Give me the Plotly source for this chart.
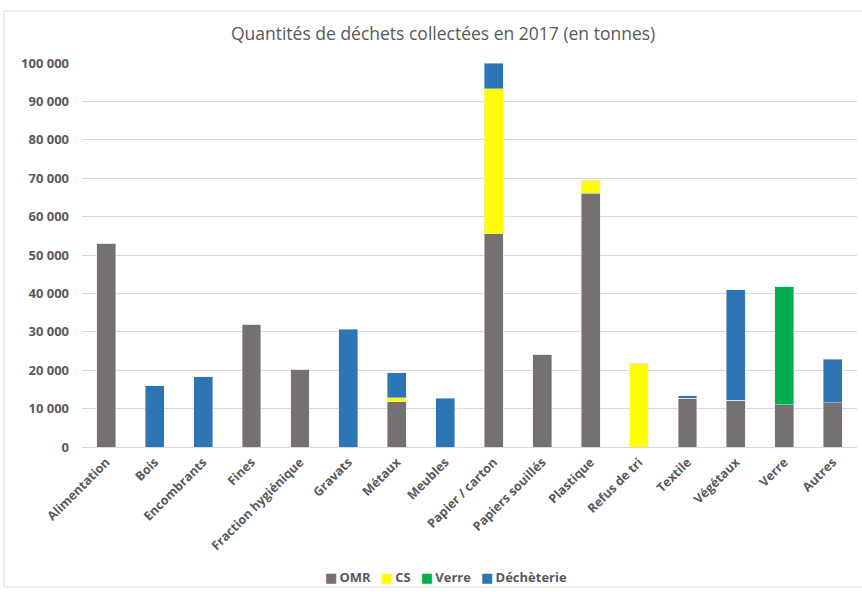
import plotly.graph_objects as go

categories = [
    "Alimentation", "Bois", "Encombrants", "Fines", "Fraction hygiénique",
    "Gravats", "Métaux", "Meubles", "Papier / carton", "Papiers souillés",
    "Plastique", "Refus de tri", "Textile", "Végétaux", "Verre", "Autres",
]

omr = [53000, 0, 0, 32000, 20100, 0, 11800, 0, 55500, 24200, 66100, 0, 12700, 12200, 11000, 11500]
cs = [0, 0, 0, 0, 0, 0, 1000, 0, 37800, 0, 3200, 21800, 0, 0, 0, 0]
verre = [0, 0, 0, 0, 0, 0, 0, 0, 0, 0, 0, 0, 0, 0, 30700, 0]
decheterie = [0, 16000, 18300, 0, 0, 30700, 6500, 12700, 6700, 0, 0, 0, 600, 28700, 0, 11400]

series = [
    ("OMR", omr, "#767171"),
    ("CS", cs, "#FFFF00"),
    ("Verre", verre, "#00B050"),
    ("Déchèterie", decheterie, "#2E75B6"),
]

text_color = "#595959"
font_family = "Open Sans, DejaVu Sans, sans-serif"

fig = go.Figure()
for name, values, color in series:
    fig.add_trace(go.Bar(
        x=categories,
        y=values,
        name=name,
        marker=dict(color=color, line=dict(color="rgba(230,230,230,0.8)", width=0.6)),
        showlegend=False,
    ))

# compact legend row: coloured squares followed by series names
legend_html = "&nbsp;&nbsp;&nbsp;".join(
    f'<span style="color:{color}">■</span>&#8201;<b>{name}</b>' for name, _, color in series
)
fig.add_annotation(
    text=legend_html,
    xref="paper", yref="paper",
    x=(446 - 82) / 775, y=-(577 - 447) / 384,
    xanchor="center", yanchor="middle",
    showarrow=False,
    font=dict(family=font_family, size=13, color=text_color),
)

fig.update_layout(
    barmode="stack",
    bargap=0.61,
    width=862,
    height=592,
    paper_bgcolor="white",
    plot_bgcolor="white",
    separators=", ",
    margin=dict(l=82, r=5, t=63, b=145),
    title=dict(
        text="Quantités de déchets collectées en 2017 (en tonnes)",
        x=0.514, xanchor="center", y=0.942, yanchor="middle",
        font=dict(family=font_family, size=17.5, color=text_color),
    ),
    font=dict(family=font_family, color=text_color),
    showlegend=False,
)

fig.update_yaxes(
    range=[0, 100000],
    tickvals=list(range(0, 100001, 10000)),
    tickformat=",d",
    showgrid=True,
    gridcolor="#D9D9D9",
    gridwidth=1,
    zeroline=True,
    zerolinecolor="#D9D9D9",
    zerolinewidth=1,
    showline=False,
    ticklabelstandoff=12,
    tickfont=dict(size=13, color=text_color, weight="bold"),
)

fig.update_xaxes(
    tickangle=-45,
    showgrid=False,
    showline=True,
    linecolor="#D9D9D9",
    tickfont=dict(size=12.5, color=text_color, weight="bold"),
    ticklabelstandoff=2,
)

# light frame around the whole chart
fig.add_shape(
    type="rect", xref="paper", yref="paper",
    x0=-78 / 775, x1=1.0 + 20 / 775,
    y0=-140 / 384, y1=1.0 + 52 / 384,
    line=dict(color="#D9D9D9", width=1),
    fillcolor="rgba(0,0,0,0)",
    layer="below",
)

fig.write_html("out.html")
